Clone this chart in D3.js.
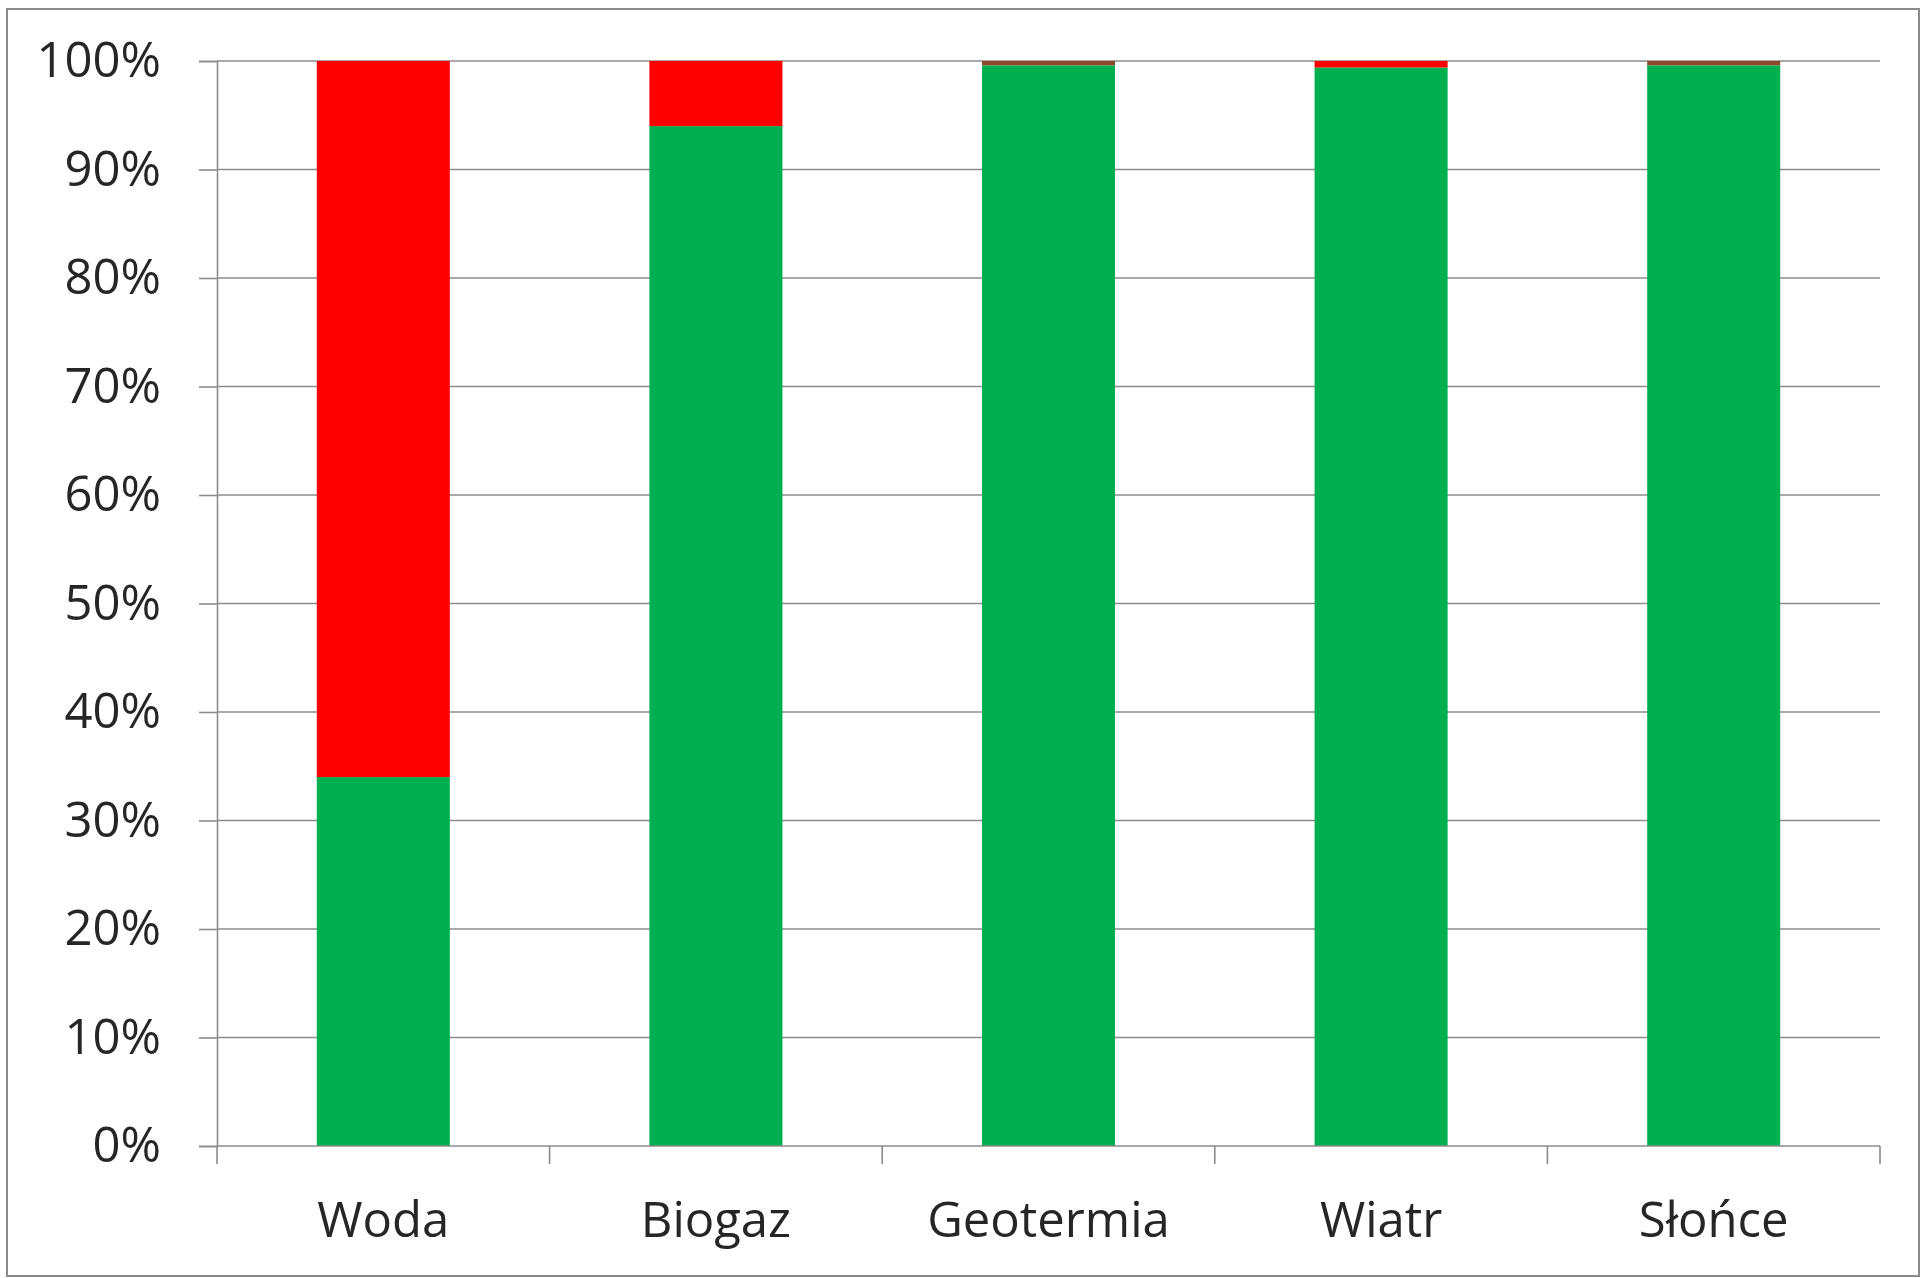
<!DOCTYPE html>
<html>
<head>
<meta charset="utf-8">
<script src="https://cdn.jsdelivr.net/npm/d3@7"></script>
<style>
  html, body { margin: 0; padding: 0; background: #fff; }
  svg { display: block; }
  text { font-family: "Open Sans", sans-serif; fill: #262626; }
</style>
</head>
<body>
<svg id="chart" width="1922" height="1278"></svg>
<script>
// Data
const categories = ["Woda", "Biogaz", "Geotermia", "Wiatr", "Słońce"];
const seriesNames = ["zielony", "czerwony", "brązowy"];
const greenValues = [34, 94, 99.6, 99.4, 99.6];
const redValues   = [66, 6, 0, 0.6, 0];
const brownValues = [0, 0, 0.4, 0, 0.4];
const seriesColors = ["#00B050", "#FF0000", "#8B4A2B"];
const yTickValues = [0, 10, 20, 30, 40, 50, 60, 70, 80, 90, 100];

const rows = categories.map((c, i) => ({
  cat: c, zielony: greenValues[i], czerwony: redValues[i], "brązowy": brownValues[i]
}));

const svg = d3.select("#chart");
const mLeft = 217, mRight = 1880, mTop = 61, mBottom = 1146;

// outer border
svg.append("rect").attr("x", 7).attr("y", 9).attr("width", 1912).attr("height", 1267)
  .attr("fill", "#fff").attr("stroke", "#8a8a8a").attr("stroke-width", 2);

const x = d3.scaleBand().domain(categories).range([mLeft, mRight]).paddingInner(0.6).paddingOuter(0.3);
const y = d3.scaleLinear().domain([0, 100]).range([mBottom, mTop]);

// gridlines
svg.append("g").selectAll("line").data(yTickValues.filter(v => v > 0)).join("line")
  .attr("x1", mLeft).attr("x2", mRight)
  .attr("y1", d => y(d)).attr("y2", d => y(d))
  .attr("stroke", "#8c8c8c").attr("stroke-width", 1.6);

// stacked bars
const stack = d3.stack().keys(seriesNames)(rows);
svg.append("g").selectAll("g").data(stack).join("g")
  .attr("fill", (d, i) => seriesColors[i])
  .selectAll("rect").data(d => d).join("rect")
  .attr("x", d => x(d.data.cat))
  .attr("width", x.bandwidth())
  .attr("y", d => y(d[1]))
  .attr("height", d => y(d[0]) - y(d[1]));

// y axis
const yAxis = d3.axisLeft(y).tickValues(yTickValues).tickFormat(d => d + "%").tickSize(18).tickPadding(38);
const gy = svg.append("g").attr("transform", `translate(${mLeft},0)`).call(yAxis);
gy.select(".domain").attr("stroke", "#8c8c8c").attr("stroke-width", 1.6);
gy.selectAll(".tick line").attr("stroke", "#8c8c8c").attr("stroke-width", 1.6);
gy.selectAll(".tick text").attr("font-size", 49).attr("fill", "#262626")
  .attr("font-family", "'Open Sans', sans-serif");

// x axis: ticks at category boundaries
const boundaries = d3.range(categories.length + 1).map(i => mLeft + i * (mRight - mLeft) / categories.length);
const gx = svg.append("g");
gx.append("line").attr("x1", mLeft).attr("x2", mRight).attr("y1", mBottom).attr("y2", mBottom)
  .attr("stroke", "#8c8c8c").attr("stroke-width", 1.6);
gx.selectAll("line.tk").data(boundaries).join("line").attr("class", "tk")
  .attr("x1", d => d).attr("x2", d => d).attr("y1", mBottom).attr("y2", mBottom + 18)
  .attr("stroke", "#8c8c8c").attr("stroke-width", 1.6);
gx.selectAll("text").data(categories).join("text")
  .attr("x", d => x(d) + x.bandwidth() / 2)
  .attr("y", 1237)
  .attr("text-anchor", "middle")
  .attr("font-size", 49)
  .text(d => d);
</script>
</body>
</html>
